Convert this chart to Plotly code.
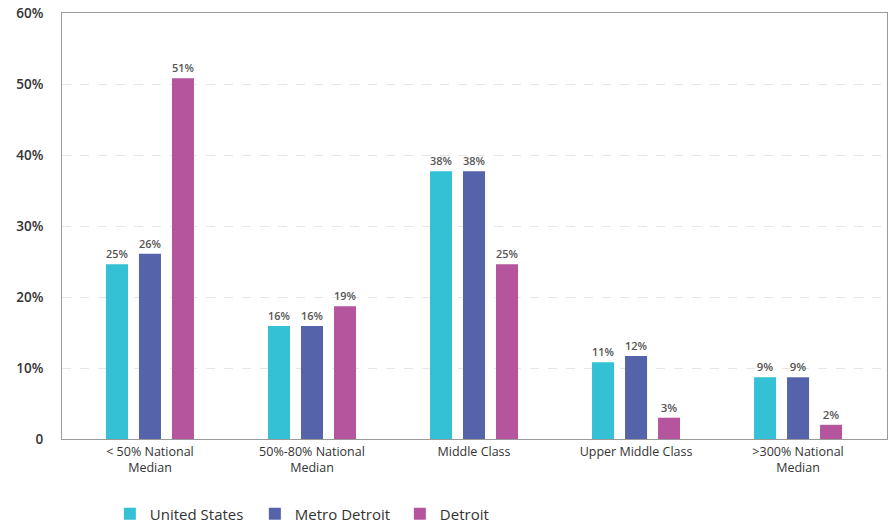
import plotly.graph_objects as go

categories = ["< 50% National<br>Median", "50%-80% National<br>Median", "Middle Class",
              "Upper Middle Class", ">300% National<br>Median"]
united_states = [24.6, 15.9, 37.7, 10.8, 8.7]
metro_detroit = [26.1, 15.9, 37.7, 11.7, 8.7]
detroit = [50.8, 18.7, 24.6, 3.0, 2.0]
y_ticks = [0, 10, 20, 30, 40, 50, 60]
y_tick_labels = ["0", "10%", "20%", "30%", "40%", "50%", "60%"]

series = [
    ("United States", united_states, "#34C0D5"),
    ("Metro Detroit", metro_detroit, "#5463AA"),
    ("Detroit", detroit, "#B5559E"),
]

FONT = "'Open Sans', Lato, sans-serif"
fig = go.Figure()
for name, vals, color in series:
    fig.add_trace(go.Bar(
        x=list(range(len(categories))), y=vals, name=name, marker_color=color,
        marker_line_width=0,
        texttemplate="%{y:.0f}%", textposition="outside",
        textfont=dict(size=11.5, color="#555555", family=FONT, weight=600),
        cliponaxis=False,
    ))

fig.update_layout(
    width=888, height=523,
    margin=dict(l=62, r=1, t=13, b=84, autoexpand=False),
    plot_bgcolor="white", paper_bgcolor="white",
    barmode="group", bargap=0.389, bargroupgap=0.333,
    font=dict(family=FONT, color="#333333"),
    showlegend=True,
    legend=dict(orientation="h", x=0.058, xanchor="left", y=-0.176, yanchor="middle",
                font=dict(size=15, color="#333333", family=FONT),
                itemsizing="constant", traceorder="normal", entrywidth=100),
    xaxis=dict(
        tickmode="array", tickvals=list(range(len(categories))), ticktext=categories,
        range=[-0.543, 4.549], showgrid=False, zeroline=False, automargin=False,
        showline=True, linecolor="#9a9a9a", linewidth=1, mirror=True,
        tickfont=dict(size=12.5, color="#333333"), ticks="", ticklabelstandoff=1,
    ),
    yaxis=dict(
        tickmode="array", tickvals=y_ticks, ticktext=y_tick_labels, automargin=False,
        range=[0, 60], showgrid=True, gridcolor="#e6e6e6", griddash="dash", gridwidth=1,
        zeroline=False, showline=True, linecolor="#9a9a9a", linewidth=1, mirror=True,
        tickfont=dict(size=13.5, color="#333333", weight=600), ticks="",
        ticklabelstandoff=15,
    ),
)

fig.write_html("out.html", config={"displayModeBar": False},
               post_script="document.body.style.margin='0';")
